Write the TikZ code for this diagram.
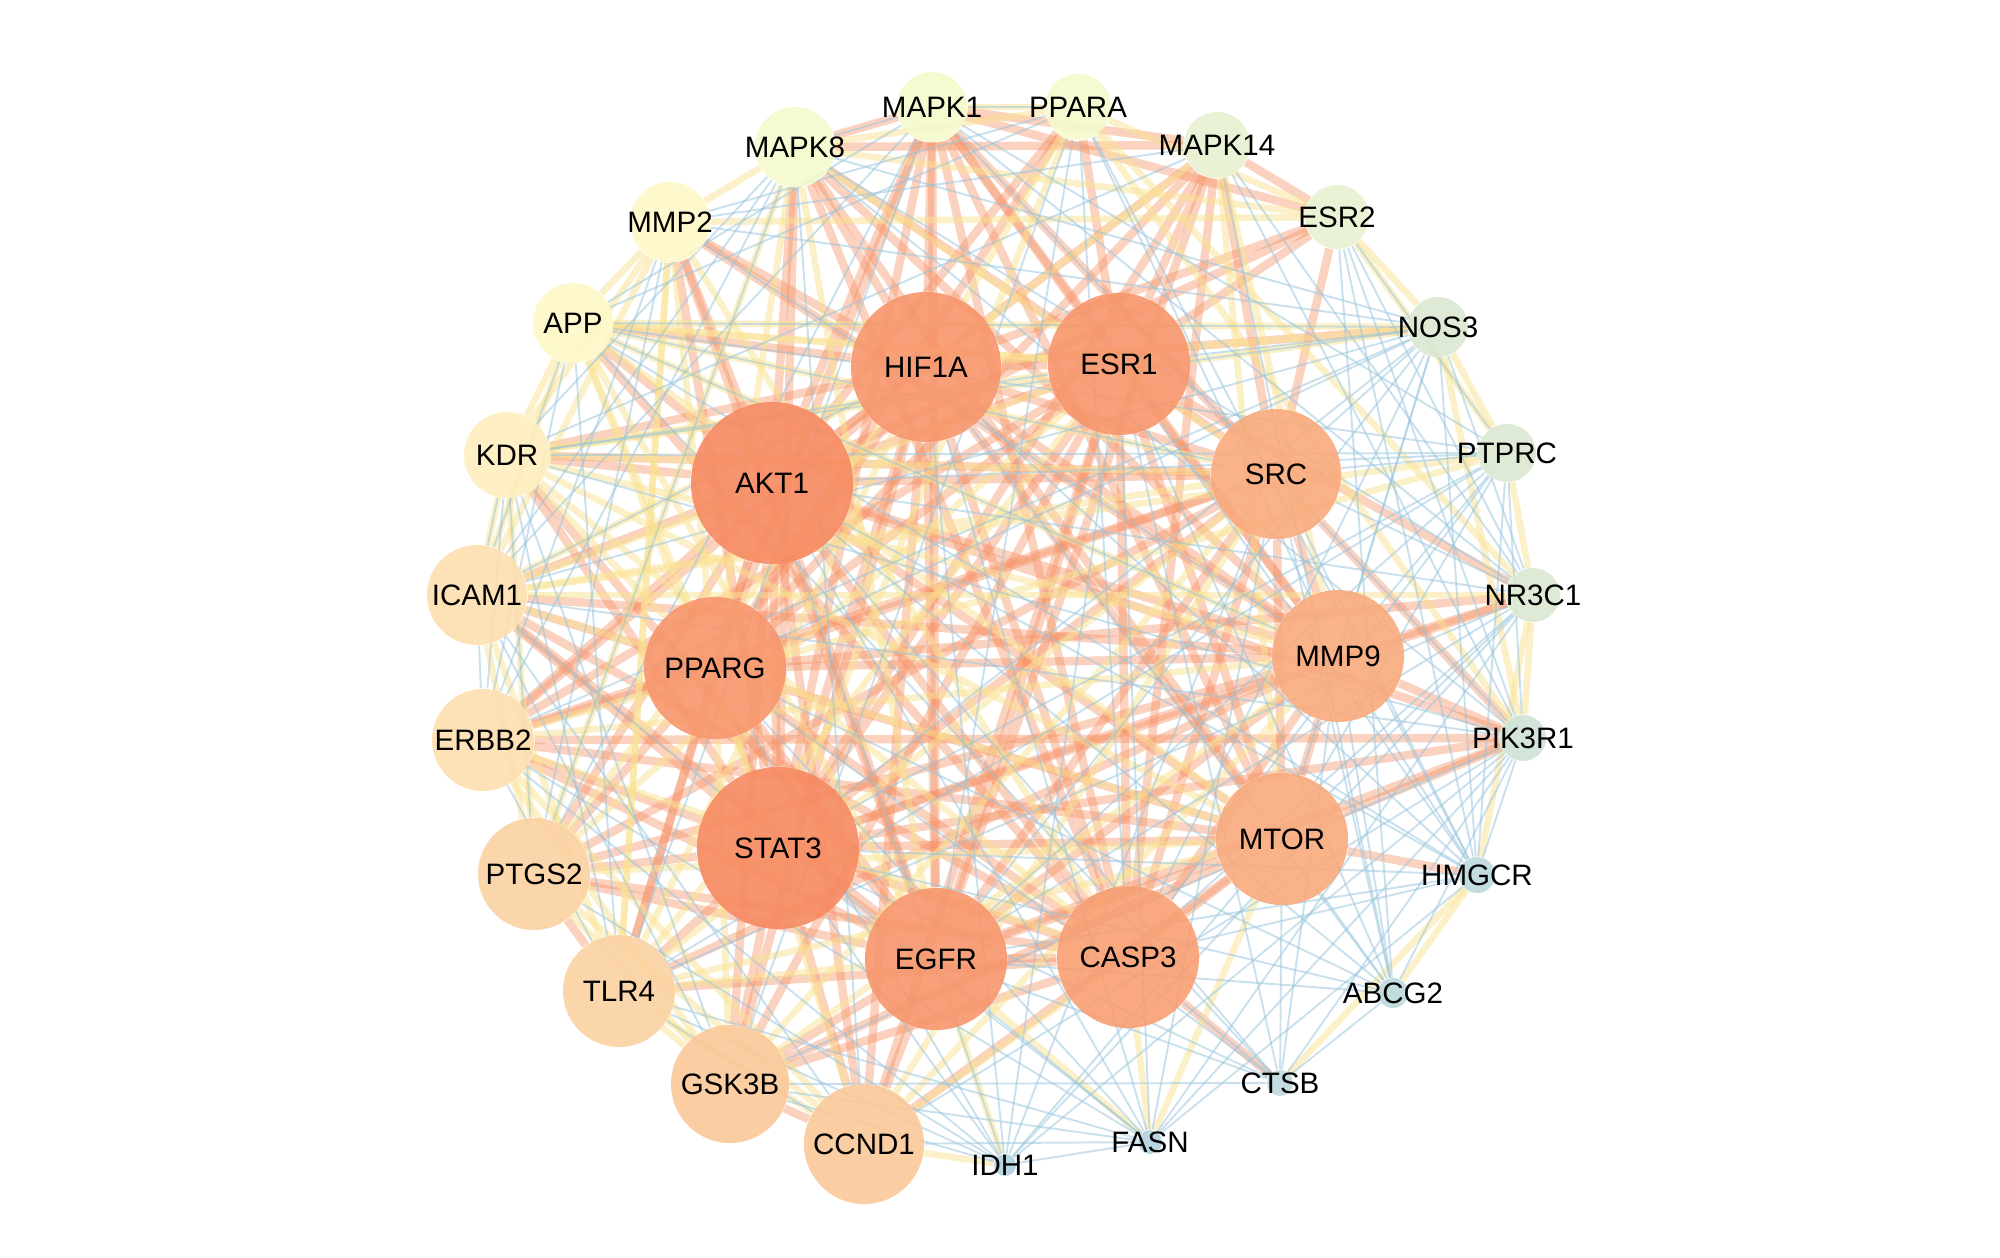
\documentclass[tikz,border=0pt]{standalone}
\usepackage{fontspec}
\setmainfont{Liberation Sans}
\usepackage{tikz}
\usetikzlibrary{backgrounds}

\definecolor{hotA}{RGB}{247,138,98}
\definecolor{hotB}{RGB}{247,150,108}
\definecolor{hotC}{RGB}{248,158,114}
\definecolor{hotD}{RGB}{249,170,124}
\definecolor{warmA}{RGB}{251,200,152}
\definecolor{warmB}{RGB}{252,210,162}
\definecolor{warmC}{RGB}{253,222,175}
\definecolor{paleA}{RGB}{254,238,190}
\definecolor{paleB}{RGB}{254,248,198}
\definecolor{paleC}{RGB}{244,249,204}
\definecolor{greenA}{RGB}{232,241,210}
\definecolor{greenB}{RGB}{218,232,210}
\definecolor{greenC}{RGB}{206,226,214}
\definecolor{blueA}{RGB}{188,216,220}
\definecolor{blueB}{RGB}{176,208,222}
\definecolor{edgehot}{RGB}{246,146,102}
\definecolor{edgewarm}{RGB}{250,226,146}
\definecolor{edgecool}{RGB}{150,196,220}

\begin{document}
\begin{tikzpicture}[x=0.01cm, y=-0.01cm,
		gene/.style={circle, inner sep=0pt, draw=none, fill opacity=0.9},
		hot/.style={line width=2.4pt, draw=edgehot, draw opacity=0.42},
		warm/.style={line width=1.9pt, draw=edgewarm, draw opacity=0.5},
		cool/.style={line width=0.55pt, draw=edgecool, draw opacity=0.5},
		every label/.style={font=\fontsize{8.4}{10}\selectfont, text=black, text opacity=1}]
	\useasboundingbox (0,0) rectangle (2000,1257);

	% genes: name / x / y / diameter / colour
	\foreach \n/\x/\y/\d/\c in {
		AKT1/772/483/1.62/hotA, STAT3/778/848/1.62/hotA,
		HIF1A/926/367/1.50/hotB, ESR1/1119/364/1.42/hotB,
		PPARG/715/668/1.42/hotB, EGFR/936/959/1.42/hotB,
		CASP3/1128/957/1.42/hotC, SRC/1276/474/1.30/hotD,
		MMP9/1338/656/1.32/hotD, MTOR/1282/839/1.32/hotD,
		CCND1/864/1144/1.20/warmA, GSK3B/730/1084/1.18/warmA,
		TLR4/619/991/1.12/warmB, PTGS2/534/874/1.12/warmB,
		ERBB2/483/740/1.02/warmC, ICAM1/477/595/1.00/warmC,
		KDR/507/455/0.86/paleA, APP/573/323/0.80/paleB,
		MMP2/670/222/0.80/paleB, MAPK8/795/147/0.80/paleC,
		MAPK1/932/107/0.70/paleC, PPARA/1078/107/0.66/paleC,
		MAPK14/1217/145/0.66/greenA, ESR2/1337/217/0.64/greenA,
		NOS3/1438/327/0.60/greenB, PTPRC/1507/453/0.58/greenB,
		NR3C1/1533/595/0.54/greenB, PIK3R1/1523/738/0.46/greenC,
		HMGCR/1477/875/0.36/blueA, ABCG2/1393/993/0.30/blueA,
		CTSB/1280/1083/0.26/blueA, FASN/1150/1142/0.24/blueB,
		IDH1/1005/1165/0.22/blueB}
	{
		\node [gene, minimum size=\d cm, fill=\c, label=center:\n] (\n) at (\x,\y) {};
	}

	\begin{scope}[on background layer]
		% hub to hub
		\foreach \a [count=\i] in {AKT1,STAT3,HIF1A,ESR1,PPARG,EGFR,CASP3,SRC,MMP9,MTOR}
		{
			\foreach \b [count=\j] in {AKT1,STAT3,HIF1A,ESR1,PPARG,EGFR,CASP3,SRC,MMP9,MTOR}
			{
				\ifnum\j>\i \draw [hot] (\a) -- (\b); \fi
			}
		}

		% strong links out to the ring
		\foreach \h/\others in {
			AKT1/{KDR,APP,MMP2,MAPK8,MAPK1,MAPK14,ICAM1,ERBB2,PTGS2,TLR4,GSK3B,CCND1,PIK3R1,ESR2,PPARA},
			STAT3/{MAPK1,MAPK8,MAPK14,ERBB2,ICAM1,PTGS2,TLR4,GSK3B,CCND1,PIK3R1,NR3C1,KDR,MMP2},
			HIF1A/{MAPK1,MAPK8,MMP2,APP,KDR,CCND1,GSK3B,ERBB2,NOS3,ESR2},
			ESR1/{MAPK1,MAPK8,MAPK14,ESR2,PPARA,ERBB2,CCND1,NR3C1,GSK3B},
			EGFR/{MAPK1,MAPK14,ERBB2,ICAM1,PTGS2,PIK3R1,KDR,CCND1,GSK3B,MMP2},
			CASP3/{MAPK1,MAPK8,MAPK14,ICAM1,TLR4,GSK3B,APP,CTSB,PTGS2},
			PPARG/{MAPK1,MAPK14,PPARA,ICAM1,PTGS2,ERBB2,NR3C1,TLR4},
			SRC/{MAPK1,MAPK14,KDR,ERBB2,PTGS2,PIK3R1,ESR2},
			MMP9/{MAPK1,MAPK8,MMP2,ICAM1,TLR4,PTGS2,NR3C1,PIK3R1},
			MTOR/{MAPK1,MAPK8,PIK3R1,GSK3B,CCND1,ERBB2,HMGCR},
			MAPK1/{MAPK14,ESR2,MAPK8},
			MAPK14/{MAPK8,ESR2},
			ERBB2/{PIK3R1},
			PTGS2/{TLR4},
			GSK3B/{CCND1}}
		{
			\foreach \o in \others
			{
				\draw [hot] (\h) -- (\o);
			}
		}

		% medium links
		\foreach \h/\others in {
			ICAM1/{PTGS2,TLR4,KDR,MMP2,APP,NR3C1,PTPRC},
			KDR/{APP,PTGS2,MMP2,NOS3,SRC},
			APP/{MMP2,STAT3,ESR1,NOS3},
			MMP2/{MAPK8,ESR2,TLR4},
			TLR4/{CCND1,GSK3B,MMP2},
			PTGS2/{CCND1,GSK3B,MAPK8},
			ERBB2/{CCND1,GSK3B,PTPRC},
			MAPK8/{PPARA,ESR2},
			PPARA/{ESR2,NR3C1,PIK3R1,MAPK1,STAT3},
			ESR2/{NOS3,PTPRC},
			NOS3/{PTPRC,PIK3R1,HIF1A},
			PTPRC/{NR3C1},
			NR3C1/{PIK3R1,HMGCR},
			FASN/{CASP3,MTOR,EGFR},
			IDH1/{EGFR,CCND1},
			HMGCR/{ABCG2,CTSB},
			SRC/{APP,ICAM1,TLR4,CCND1,GSK3B,MAPK8},
			MMP9/{KDR,APP,ERBB2,GSK3B,CCND1,MAPK14},
			MTOR/{ICAM1,KDR,APP,TLR4,PTGS2,MAPK14},
			HIF1A/{PTGS2,TLR4,ICAM1,MAPK14,PPARA},
			PPARG/{KDR,APP,MMP2,MAPK8,CCND1,GSK3B},
			CASP3/{KDR,ERBB2,CCND1,MMP2},
			EGFR/{APP,TLR4,MAPK8},
			ESR1/{APP,KDR,ICAM1,PTGS2,TLR4}}
		{
			\foreach \o in \others
			{
				\draw [warm] (\h) -- (\o);
			}
		}

		% weak links
		\foreach \h/\others in {
			NOS3/{ICAM1,KDR,APP,MMP2,MAPK8,NR3C1,ESR1,SRC,MMP9,MTOR,EGFR,CASP3,ERBB2,STAT3,PPARG},
			PTPRC/{STAT3,AKT1,MMP9,KDR,APP,TLR4,CASP3,EGFR,MTOR,SRC,PIK3R1,ESR2,MAPK1},
			NR3C1/{ESR2,MAPK14,MAPK8,MAPK1,AKT1,EGFR,CASP3,MTOR,SRC,IDH1,FASN,TLR4},
			PIK3R1/{MAPK1,MAPK8,MAPK14,ESR2,HMGCR,ABCG2,CTSB,FASN,IDH1,GSK3B,CCND1,KDR,ICAM1},
			HMGCR/{AKT1,STAT3,EGFR,CASP3,MMP9,SRC,NOS3,PTPRC,ESR2,PPARA,APP,FASN,ESR1,HIF1A},
			ABCG2/{STAT3,AKT1,EGFR,ESR1,HIF1A,MMP9,MTOR,CTSB,PPARG,ESR2,MAPK14,SRC},
			CTSB/{CASP3,MMP9,MTOR,STAT3,AKT1,APP,PPARG,EGFR,ESR1,GSK3B},
			FASN/{AKT1,PPARG,STAT3,HIF1A,ESR1,ICAM1,ERBB2,TLR4,GSK3B,CCND1,SRC},
			IDH1/{HIF1A,AKT1,STAT3,MTOR,PPARG,ESR1,SRC,GSK3B,TLR4,PTGS2,ERBB2,FASN},
			KDR/{ERBB2,ICAM1,PTGS2,MAPK14,MAPK8,ESR1,TLR4,GSK3B},
			ICAM1/{ERBB2,MAPK8,MAPK1,HIF1A,GSK3B,CCND1},
			APP/{TLR4,ERBB2,ICAM1,MAPK1,PPARA,SRC,MMP9},
			MMP2/{ERBB2,PTGS2,PPARA,MAPK14,MMP9},
			MAPK8/{MAPK1,ERBB2,PTGS2,CCND1},
			MAPK1/{PPARA,PTGS2,TLR4},
			PPARA/{MMP9,EGFR,CASP3,GSK3B},
			TLR4/{ERBB2,CCND1}}
		{
			\foreach \o in \others
			{
				\draw [cool] (\h) -- (\o);
			}
		}
	\end{scope}
\end{tikzpicture}
\end{document}
